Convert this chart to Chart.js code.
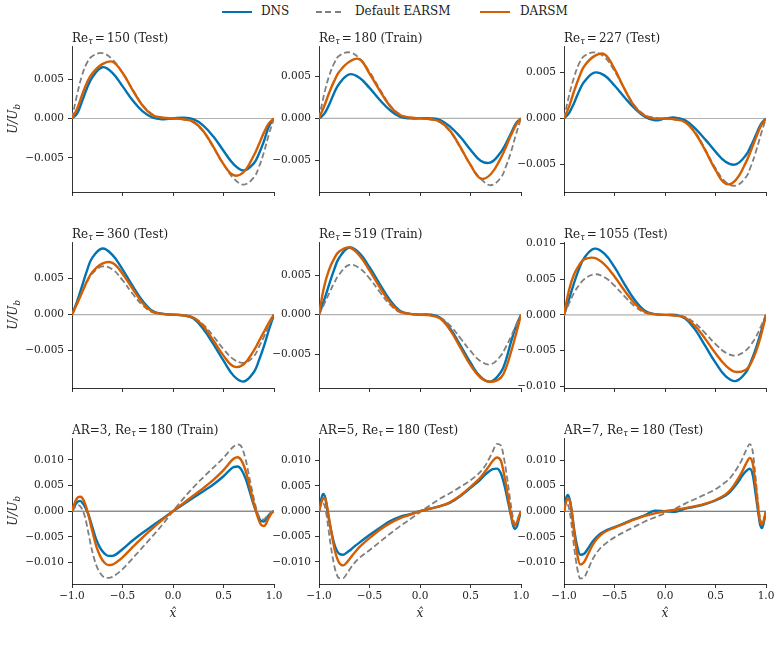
<!DOCTYPE html>
<html lang="en">
<head>
<meta charset="UTF-8">
<title>DNS vs EARSM vs DARSM secondary flow profiles</title>
<script src="https://cdn.jsdelivr.net/npm/chart.js"></script>
<style>
  body { margin: 0; background: #fff; width: 781px; height: 646px; position: relative; overflow: hidden; }
  canvas { position: absolute; }
  .leg { position: absolute; font: 12px "DejaVu Serif", serif; color: #222; }
  .handle { position: absolute; height: 2.2px; }
</style>
</head>
<body>
<div class="handle" style="left:222px; top:11px; width:30px; background:#0173b2;"></div>
<div class="leg" style="left:261px; top:4px;">DNS</div>
<div class="handle" style="left:316px; top:11px; width:26px; height:1.8px;
     background:repeating-linear-gradient(to right, #7f7f7f 0 6px, transparent 6px 9.5px);"></div>
<div class="leg" style="left:355px; top:4px;">Default EARSM</div>
<div class="handle" style="left:480px; top:11px; width:30px; background:#d55e00;"></div>
<div class="leg" style="left:520px; top:4px;">DARSM</div>

<script>
// x grids
const X_CHANNEL = [-1, -0.95, -0.9, -0.85, -0.8, -0.7, -0.6, -0.5, -0.4, -0.3, -0.2, -0.1, 0,
                   0.1, 0.2, 0.3, 0.4, 0.5, 0.6, 0.7, 0.8, 0.85, 0.9, 0.95, 1];
const X_DUCT = [-1, -0.98, -0.96, -0.94, -0.92, -0.9, -0.87, -0.84, -0.8, -0.76, -0.72, -0.68, -0.64, -0.6,
                -0.5, -0.4, -0.3, -0.2, -0.1, 0, 0.1, 0.2, 0.3, 0.4, 0.5, 0.6,
                0.64, 0.68, 0.72, 0.76, 0.8, 0.84, 0.87, 0.9, 0.92, 0.94, 0.96, 0.98, 1];

// Re_tau = 150
const dns150   = [0, 0.0006, 0.0022, 0.0039, 0.0052, 0.0065, 0.0058, 0.0041, 0.0023, 0.0009, 0.0001, -0.0001, 0,
                  0.0001, -0.0001, -0.0009, -0.0023, -0.0041, -0.0058, -0.0066, -0.0057, -0.0045, -0.0029, -0.0010, 0];
const earsm150 = [0, 0.0030, 0.0055, 0.0071, 0.0079, 0.0083, 0.0075, 0.0058, 0.0037, 0.0017, 0.0005, 0.0001, 0,
                  -0.0001, -0.0005, -0.0017, -0.0037, -0.0058, -0.0076, -0.0084, -0.0075, -0.0062, -0.0043, -0.0020, 0];
const darsm150 = [0, 0.0012, 0.0030, 0.0046, 0.0057, 0.0069, 0.0072, 0.0058, 0.0036, 0.0016, 0.0004, 0.0001, 0,
                  -0.0001, -0.0004, -0.0016, -0.0036, -0.0058, -0.0072, -0.0068, -0.0047, -0.0033, -0.0018, -0.0006, 0];
// Re_tau = 180
const dns180   = [0, 0.0005, 0.0016, 0.0030, 0.0041, 0.0052, 0.0048, 0.0036, 0.0022, 0.0010, 0.0002, 0, 0,
                  0, -0.0002, -0.0010, -0.0022, -0.0037, -0.0050, -0.0052, -0.0040, -0.0030, -0.0018, -0.0006, 0];
const earsm180 = [0, 0.0028, 0.0050, 0.0065, 0.0074, 0.0078, 0.0071, 0.0055, 0.0035, 0.0016, 0.0005, 0.0001, 0,
                  -0.0001, -0.0005, -0.0016, -0.0035, -0.0055, -0.0071, -0.0079, -0.0070, -0.0057, -0.0040, -0.0019, 0];
const darsm180 = [0, 0.0014, 0.0030, 0.0044, 0.0055, 0.0067, 0.0070, 0.0053, 0.0033, 0.0015, 0.0004, 0.0001, 0,
                  -0.0001, -0.0004, -0.0015, -0.0034, -0.0055, -0.0071, -0.0066, -0.0047, -0.0034, -0.0020, -0.0008, 0];
// Re_tau = 227
const dns227   = [0, 0.0006, 0.0017, 0.0030, 0.0040, 0.0050, 0.0047, 0.0036, 0.0023, 0.0011, 0.0002, -0.0002, 0,
                  0.0001, -0.0002, -0.0011, -0.0023, -0.0036, -0.0047, -0.0050, -0.0040, -0.0030, -0.0018, -0.0006, 0];
const earsm227 = [0, 0.0025, 0.0045, 0.0060, 0.0068, 0.0072, 0.0067, 0.0052, 0.0032, 0.0014, 0.0004, 0.0001, 0,
                  -0.0001, -0.0004, -0.0015, -0.0034, -0.0054, -0.0069, -0.0073, -0.0064, -0.0052, -0.0036, -0.0017, 0];
const darsm227 = [0, 0.0013, 0.0030, 0.0045, 0.0057, 0.0068, 0.0070, 0.0054, 0.0032, 0.0013, 0.0003, 0, 0,
                  -0.0001, -0.0004, -0.0016, -0.0035, -0.0056, -0.0071, -0.0067, -0.0048, -0.0035, -0.0021, -0.0008, 0];
// Re_tau = 360
const dns360   = [0, 0.0018, 0.0040, 0.0062, 0.0079, 0.0092, 0.0083, 0.0063, 0.0040, 0.0019, 0.0005, 0.0001, 0,
                  -0.0001, -0.0005, -0.0020, -0.0041, -0.0064, -0.0085, -0.0093, -0.0080, -0.0064, -0.0044, -0.0021, 0];
const earsm360 = [0, 0.0015, 0.0031, 0.0046, 0.0057, 0.0067, 0.0063, 0.0048, 0.0029, 0.0013, 0.0003, 0.0001, 0,
                  -0.0001, -0.0004, -0.0014, -0.0030, -0.0048, -0.0062, -0.0067, -0.0058, -0.0045, -0.0031, -0.0015, 0];
const darsm360 = [0, 0.0015, 0.0031, 0.0047, 0.0059, 0.0071, 0.0072, 0.0057, 0.0036, 0.0016, 0.0004, 0.0001, 0,
                  -0.0001, -0.0004, -0.0016, -0.0036, -0.0057, -0.0072, -0.0069, -0.0050, -0.0037, -0.0024, -0.0011, 0];
// Re_tau = 519
const dns519   = [0, 0.0018, 0.0038, 0.0057, 0.0072, 0.0085, 0.0078, 0.0060, 0.0039, 0.0019, 0.0005, 0.0001, 0,
                  0, -0.0004, -0.0018, -0.0039, -0.0061, -0.0079, -0.0085, -0.0073, -0.0058, -0.0035, -0.0015, 0];
const earsm519 = [0, 0.0013, 0.0027, 0.0040, 0.0051, 0.0063, 0.0059, 0.0046, 0.0029, 0.0013, 0.0003, 0.0001, 0,
                  -0.0001, -0.0004, -0.0014, -0.0030, -0.0046, -0.0059, -0.0063, -0.0052, -0.0041, -0.0028, -0.0014, 0];
const darsm519 = [0, 0.0035, 0.0057, 0.0071, 0.0080, 0.0085, 0.0075, 0.0056, 0.0035, 0.0016, 0.0004, 0.0001, 0,
                  -0.0001, -0.0005, -0.0020, -0.0042, -0.0064, -0.0080, -0.0085, -0.0080, -0.0068, -0.0048, -0.0025, 0];
// Re_tau = 1055
const dns1055   = [0, 0.0022, 0.0045, 0.0065, 0.0080, 0.0093, 0.0086, 0.0067, 0.0043, 0.0021, 0.0006, 0.0001, 0,
                   0, -0.0005, -0.0021, -0.0044, -0.0067, -0.0086, -0.0093, -0.0081, -0.0066, -0.0047, -0.0024, 0];
const earsm1055 = [0, 0.0016, 0.0031, 0.0042, 0.0050, 0.0057, 0.0053, 0.0041, 0.0026, 0.0012, 0.0003, 0.0001, 0,
                   -0.0001, -0.0003, -0.0012, -0.0026, -0.0041, -0.0053, -0.0057, -0.0050, -0.0042, -0.0031, -0.0016, 0];
const darsm1055 = [0, 0.0035, 0.0057, 0.0070, 0.0078, 0.0080, 0.0071, 0.0054, 0.0034, 0.0016, 0.0004, 0.0001, 0,
                   -0.0001, -0.0004, -0.0016, -0.0034, -0.0054, -0.0071, -0.0080, -0.0077, -0.0068, -0.0052, -0.0029, 0];

// rectangular ducts, Re_tau = 180
const dnsAR3   = [0, 0.0008, 0.0015, 0.0019, 0.0020, 0.0017, 0.0008, -0.0005, -0.0030, -0.0055, -0.0072, -0.0082, -0.0087, -0.0087,
                  -0.0074, -0.0057, -0.0042, -0.0028, -0.0014, 0, 0.0013, 0.0026, 0.0039, 0.0052, 0.0068, 0.0086,
                  0.0087, 0.0080, 0.0063, 0.0038, 0.0012, -0.0008, -0.0019, -0.0020, -0.0016, -0.0010, -0.0006, -0.0002, 0];
const earsmAR3 = [0, 0.0005, 0.0010, 0.0012, 0.0010, 0.0004, -0.0012, -0.0040, -0.0078, -0.0105, -0.0121, -0.0129, -0.0130, -0.0128,
                  -0.0113, -0.0092, -0.0070, -0.0048, -0.0025, 0, 0.0024, 0.0046, 0.0066, 0.0085, 0.0104, 0.0126,
                  0.0130, 0.0125, 0.0100, 0.0062, 0.0025, -0.0005, -0.0015, -0.0016, -0.0012, -0.0008, -0.0004, -0.0001, 0];
const darsmAR3 = [0, 0.0012, 0.0022, 0.0027, 0.0028, 0.0026, 0.0014, -0.0005, -0.0038, -0.0068, -0.0088, -0.0100, -0.0105, -0.0104,
                  -0.0090, -0.0070, -0.0051, -0.0033, -0.0016, 0, 0.0015, 0.0030, 0.0045, 0.0061, 0.0080, 0.0102,
                  0.0105, 0.0098, 0.0078, 0.0048, 0.0015, -0.0012, -0.0026, -0.0029, -0.0025, -0.0016, -0.0009, -0.0003, 0];

const dnsAR5   = [0, 0.0022, 0.0034, 0.0028, 0.0005, -0.0018, -0.0048, -0.0070, -0.0084, -0.0086, -0.0081, -0.0075, -0.0068, -0.0062,
                  -0.0047, -0.0033, -0.0020, -0.0011, -0.0006, 0, 0.0005, 0.0010, 0.0017, 0.0030, 0.0046, 0.0063,
                  0.0071, 0.0078, 0.0083, 0.0084, 0.0075, 0.0048, 0.0020, -0.0008, -0.0027, -0.0035, -0.0030, -0.0015, 0];
const earsmAR5 = [0, 0.0012, 0.0015, 0.0008, -0.0015, -0.0045, -0.0085, -0.0115, -0.0132, -0.0132, -0.0122, -0.0110, -0.0100, -0.0092,
                  -0.0077, -0.0061, -0.0045, -0.0030, -0.0016, -0.0002, 0.0012, 0.0025, 0.0036, 0.0048, 0.0061, 0.0078,
                  0.0088, 0.0102, 0.0118, 0.0133, 0.0130, 0.0095, 0.0055, 0.0012, -0.0012, -0.0025, -0.0022, -0.0010, 0];
const darsmAR5 = [0, 0.0015, 0.0025, 0.0026, 0.0010, -0.0015, -0.0050, -0.0080, -0.0102, -0.0107, -0.0100, -0.0090, -0.0080, -0.0071,
                  -0.0053, -0.0037, -0.0024, -0.0014, -0.0007, 0, 0.0005, 0.0010, 0.0018, 0.0031, 0.0048, 0.0067,
                  0.0077, 0.0088, 0.0099, 0.0106, 0.0100, 0.0065, 0.0030, -0.0005, -0.0022, -0.0028, -0.0022, -0.0010, 0];

const dnsAR7   = [0, 0.0025, 0.0032, 0.0020, -0.0005, -0.0035, -0.0068, -0.0085, -0.0083, -0.0072, -0.0060, -0.0051, -0.0044, -0.0039,
                  -0.0031, -0.0023, -0.0015, -0.0008, 0.0001, 0, -0.0001, 0.0005, 0.0009, 0.0014, 0.0021, 0.0031,
                  0.0037, 0.0046, 0.0056, 0.0068, 0.0078, 0.0083, 0.0070, 0.0030, 0.0002, -0.0025, -0.0033, -0.0020, 0];
const earsmAR7 = [0, 0.0014, 0.0012, -0.0005, -0.0035, -0.0070, -0.0110, -0.0131, -0.0129, -0.0113, -0.0095, -0.0082, -0.0072, -0.0065,
                  -0.0051, -0.0040, -0.0030, -0.0020, -0.0012, -0.0004, 0.0005, 0.0015, 0.0024, 0.0033, 0.0043, 0.0057,
                  0.0064, 0.0074, 0.0086, 0.0100, 0.0118, 0.0131, 0.0115, 0.0060, 0.0020, -0.0012, -0.0024, -0.0015, 0];
const darsmAR7 = [0, 0.0018, 0.0025, 0.0018, -0.0005, -0.0040, -0.0083, -0.0104, -0.0099, -0.0083, -0.0067, -0.0055, -0.0047, -0.0041,
                  -0.0032, -0.0024, -0.0016, -0.0009, -0.0004, 0, 0.0003, 0.0006, 0.0010, 0.0015, 0.0022, 0.0033,
                  0.0040, 0.0050, 0.0062, 0.0076, 0.0092, 0.0104, 0.0092, 0.0045, 0.0010, -0.0018, -0.0026, -0.0016, 0];

// panel labels and axes
const PREFIXES = ['', '', '', '', '', '', 'AR=3, ', 'AR=5, ', 'AR=7, '];
const RE_TAU = ['150', '180', '227', '360', '519', '1055', '180', '180', '180'];
const SPLITS = ['Test', 'Train', 'Test', 'Test', 'Train', 'Test', 'Train', 'Test', 'Test'];
const YLIM = [[-0.00934, 0.0092], [-0.0087, 0.00855], [-0.0080, 0.0079],
              [-0.0102, 0.0101], [-0.0093, 0.0092], [-0.01027, 0.01024],
              [-0.01418, 0.01425], [-0.01437, 0.01445], [-0.0142, 0.0143]];
const TICKS_SMALL = [-0.005, 0, 0.005];
const TICKS_LARGE = [-0.01, -0.005, 0, 0.005, 0.01];
const Y_TICKS = [TICKS_SMALL, TICKS_SMALL, TICKS_SMALL, TICKS_SMALL, TICKS_SMALL,
                 TICKS_LARGE, TICKS_LARGE, TICKS_LARGE, TICKS_LARGE];
const X_TICKS = [-1, -0.5, 0, 0.5, 1];

const panels = [
  [X_CHANNEL, dns150, earsm150, darsm150],
  [X_CHANNEL, dns180, earsm180, darsm180],
  [X_CHANNEL, dns227, earsm227, darsm227],
  [X_CHANNEL, dns360, earsm360, darsm360],
  [X_CHANNEL, dns519, earsm519, darsm519],
  [X_CHANNEL, dns1055, earsm1055, darsm1055],
  [X_DUCT, dnsAR3, earsmAR3, darsmAR3],
  [X_DUCT, dnsAR5, earsmAR5, darsmAR5],
  [X_DUCT, dnsAR7, earsmAR7, darsmAR7]
];

// where the plot areas sit on the page
const COL_L = [72, 319, 564];
const ROW_T = [46, 242, 438];
const PW = 202, PH = 146;
const PAD_L = 70, PAD_R = 14, PAD_T = 26, PAD_B = 40;
const SERIF = '"DejaVu Serif", serif';
const INK = '#222';

const minus = (v, d) => (v < 0 ? '\u2212' : '') + Math.abs(v).toFixed(d);
const pts = (xs, ys) => xs.map((x, k) => ({x: x, y: ys[k]}));

// panel title, y label and x label
const decor = {
  id: 'decor',
  afterDraw(chart, args, opts) {
    const {ctx, chartArea: a} = chart;
    const i = opts.index, col = i % 3, row = Math.floor(i / 3);
    ctx.save();
    ctx.fillStyle = INK;
    ctx.textBaseline = 'alphabetic';
    ctx.textAlign = 'left';

    let x = a.left, y = a.top - 4.5;
    ctx.font = '12px ' + SERIF;
    if (PREFIXES[i]) { ctx.fillText(PREFIXES[i], x, y); x += ctx.measureText(PREFIXES[i]).width; }
    ctx.fillText('Re', x, y); x += ctx.measureText('Re').width;
    ctx.font = 'italic 8.5px ' + SERIF;
    ctx.fillText('\u03c4', x, y + 2.5); x += ctx.measureText('\u03c4').width + 2;
    ctx.font = '12px ' + SERIF;
    ctx.fillText('=', x, y); x += ctx.measureText('=').width + 2;
    ctx.fillText(RE_TAU[i] + ' (' + SPLITS[i] + ')', x, y);

    if (col === 0) {
      ctx.save();
      ctx.translate(a.left - 59.5, (a.top + a.bottom) / 2);
      ctx.rotate(-Math.PI / 2);
      ctx.font = 'italic 12px ' + SERIF;
      const w1 = ctx.measureText('U/U').width;
      ctx.font = 'italic 8.5px ' + SERIF;
      const w2 = ctx.measureText('b').width;
      const x0 = -(w1 + w2) / 2;
      ctx.font = 'italic 12px ' + SERIF;
      ctx.fillText('U/U', x0, 4);
      ctx.font = 'italic 8.5px ' + SERIF;
      ctx.fillText('b', x0 + w1, 7);
      ctx.restore();
    }
    if (row === 2) {
      ctx.font = 'italic 12px ' + SERIF;
      ctx.textAlign = 'center';
      ctx.fillText('x\u0302', (a.left + a.right) / 2, a.bottom + 33);
    }
    ctx.restore();
  }
};

panels.forEach((p, i) => {
  const col = i % 3, row = Math.floor(i / 3);
  const cv = document.createElement('canvas');
  const w = PW + PAD_L + PAD_R, h = PH + PAD_T + PAD_B;
  cv.width = w; cv.height = h;
  cv.style.width = w + 'px'; cv.style.height = h + 'px';
  cv.style.left = (COL_L[col] - PAD_L) + 'px';
  cv.style.top = (ROW_T[row] - PAD_T) + 'px';
  document.body.appendChild(cv);

  const [xs, dns, earsm, darsm] = p;
  const duct = row === 2;
  // channel curves are smooth, duct curves have sharp wall features
  const smooth = duct ? { cubicInterpolationMode: 'monotone' } : { tension: 0.4 };

  new Chart(cv, {
    type: 'line',
    data: {
      datasets: [
        { data: pts([-1, 1], [0, 0]), borderColor: duct ? '#444' : '#b0b0b0', borderWidth: duct ? 0.9 : 1.1,
          pointRadius: 0, order: 4 },
        Object.assign({ data: pts(xs, dns), borderColor: '#0173b2', borderWidth: 2.4, pointRadius: 0, order: 3 }, smooth),
        Object.assign({ data: pts(xs, earsm), borderColor: '#7f7f7f', borderWidth: 1.8, borderDash: [6, 3],
          pointRadius: 0, order: 2 }, smooth),
        Object.assign({ data: pts(xs, darsm), borderColor: '#d55e00', borderWidth: 2.4, pointRadius: 0, order: 1 }, smooth)
      ]
    },
    options: {
      responsive: false,
      animation: false,
      devicePixelRatio: 1,
      events: [],
      layout: { autoPadding: false, padding: { left: 0, right: PAD_R, top: PAD_T, bottom: 0 } },
      plugins: { legend: { display: false }, tooltip: { enabled: false }, decor: { index: i } },
      scales: {
        x: {
          type: 'linear', min: -1, max: 1,
          afterBuildTicks: s => { s.ticks = X_TICKS.map(v => ({value: v})); },
          afterFit: s => { s.height = PAD_B; },
          grid: { drawOnChartArea: false, tickLength: 4, tickColor: '#000', tickWidth: 0.8 },
          border: { color: '#000', width: 0.8 },
          ticks: { padding: 2, color: INK, font: { family: 'DejaVu Serif', size: 10.5 }, maxRotation: 0,
                   callback: v => duct ? minus(v, 1) : '' }
        },
        y: {
          min: YLIM[i][0], max: YLIM[i][1],
          afterBuildTicks: s => { s.ticks = Y_TICKS[i].map(v => ({value: v})); },
          afterFit: s => { s.width = PAD_L; },
          grid: { drawOnChartArea: false, tickLength: 4, tickColor: '#000', tickWidth: 0.8 },
          border: { color: '#000', width: 0.8 },
          ticks: { padding: 4, color: INK, font: { family: 'DejaVu Serif', size: 10.5 },
                   callback: v => minus(v, 3) }
        }
      }
    },
    plugins: [decor]
  });
});
</script>
</body>
</html>
